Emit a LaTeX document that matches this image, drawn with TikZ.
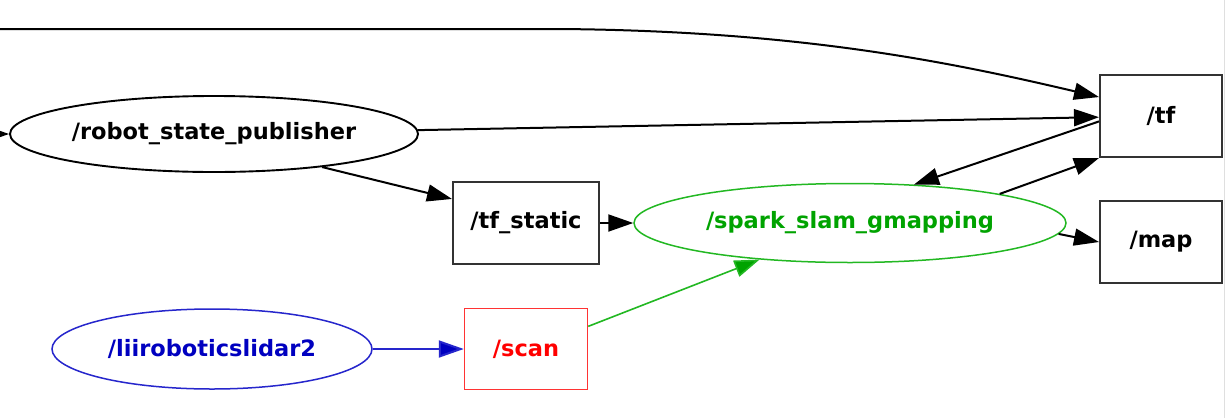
\documentclass[tikz,border=0pt]{standalone}
\usepackage{fontspec}
\setmainfont{DejaVu Sans}
\usetikzlibrary{shapes.geometric,arrows.meta}
\definecolor{gvgreen}{HTML}{00A300}
\definecolor{gvgreenline}{HTML}{22B822}
\definecolor{gvblue}{HTML}{0000C0}
\definecolor{gvblueline}{HTML}{2626CC}
\definecolor{gvred}{HTML}{FF0000}
\definecolor{gvredline}{HTML}{FF3333}
\definecolor{gvgrey}{HTML}{333333}
\tikzset{
  lbl/.style={font=\fontsize{22.5}{26}\selectfont\bfseries, inner sep=0pt},
  nodeell/.style={lbl, ellipse, draw, line width=1.9pt},
  topicbox/.style={lbl, rectangle, draw=gvgrey, line width=2pt},
  edge/.style={line width=2pt, -{Triangle[length=25pt,width=17pt]}},
}
\begin{document}
\begin{tikzpicture}[x=1pt,y=-1pt]
\useasboundingbox (0,0) rectangle (1225,418);
\fill[white] (0,0) rectangle (1225,418);
\draw[gray!25, line width=1pt] (1224.3,0) -- (1224.3,418);

\node[nodeell, minimum width=408pt, minimum height=76pt] (rsp) at (214,134) {/robot\_state\_publisher};
\node[topicbox, minimum width=122pt, minimum height=82pt] (tf) at (1161,116) {/tf};
\node[topicbox, minimum width=122pt, minimum height=82pt] (map) at (1161,242) {/map};
\node[topicbox, minimum width=146pt, minimum height=82pt] (tfs) at (526,223) {/tf\_static};
\node[nodeell, draw=gvgreenline, text=gvgreen, line width=1.5pt, minimum width=432pt, minimum height=79pt] (spark) at (850,223) {/spark\_slam\_gmapping};
\node[nodeell, draw=gvblueline, text=gvblue, line width=1.5pt, minimum width=320pt, minimum height=80pt] (lidar) at (212,349) {/liiroboticslidar2};
\node[topicbox, draw=gvredline, text=gvred, line width=1.5pt, minimum width=123pt, minimum height=81pt] (scan) at (526,349) {/scan};

\coordinate (offleft) at (-40,134);
\coordinate (offtop) at (-10,29);

\draw[edge] (offleft) -- (rsp.west);
\draw[edge] (offtop) -- (560,29) .. controls (800,31) and (950,62) .. (tf.163);
\draw[edge] (rsp) -- (tf);
\draw[edge] (rsp.-17) -- (tfs.162.5);
\draw[edge] (tfs.east) -- (spark.west);
\draw[edge] (spark.11.3) -- (tf.south west);
\draw[edge] (tf.185) -- (spark.31.6);
\draw[edge] (spark.-3.3) -- (map.west);
\draw[edge, draw=gvblueline, -{Triangle[length=25pt,width=17pt,fill=gvblue]}] (lidar.east) -- (scan.west);
\draw[edge, line width=1.6pt, draw=gvgreenline, -{Triangle[length=25pt,width=17pt,fill=gvgreen]}] (scan.20.4) -- (spark.202);
\end{tikzpicture}
\end{document}
